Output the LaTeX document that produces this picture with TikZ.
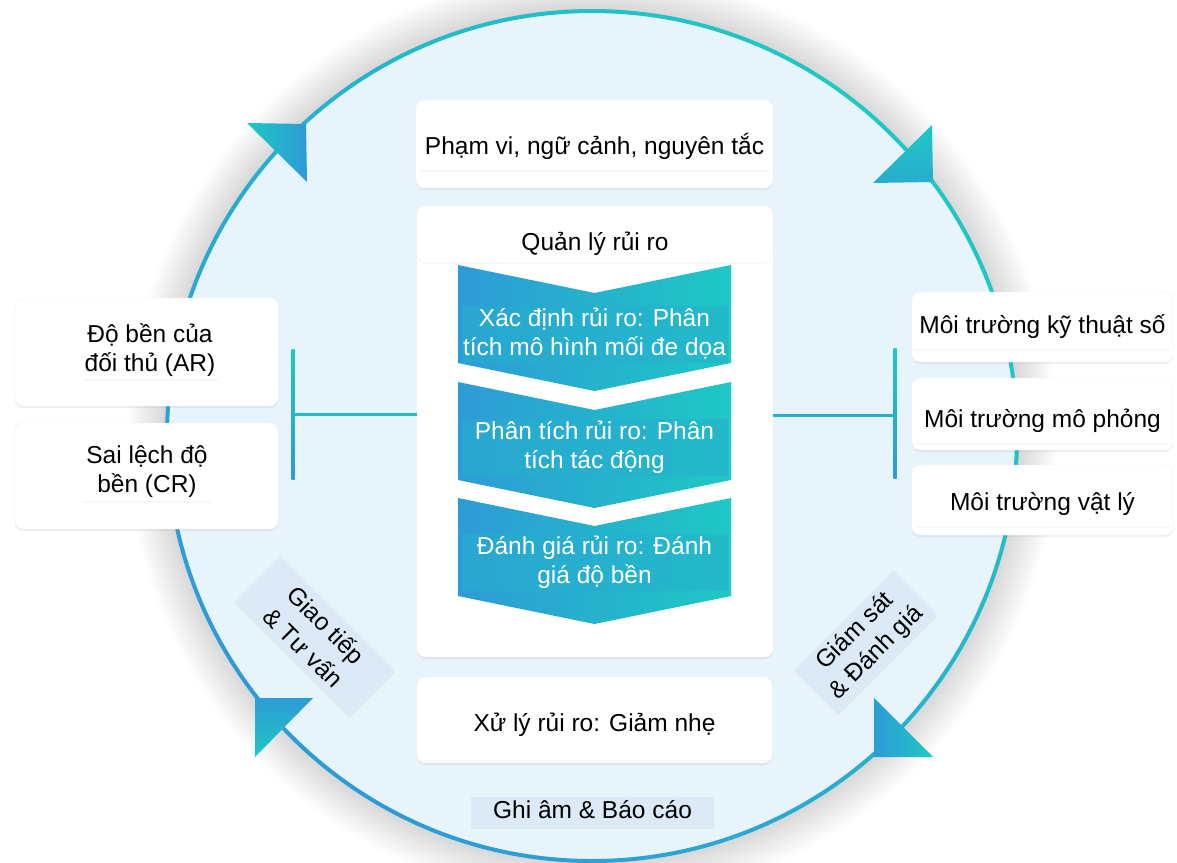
\documentclass[tikz,border=0pt]{standalone}
\usepackage{fontspec}
\setmainfont{Liberation Sans}
\usetikzlibrary{shadows,calc}
\definecolor{circfill}{HTML}{E8F4FC}
\definecolor{tealc}{HTML}{1EC8C4}
\definecolor{bluec}{HTML}{2D9BD6}
\definecolor{chevmid}{HTML}{27AFCE}
\definecolor{labelfill}{HTML}{DCEAF7}
\definecolor{lineteal}{HTML}{22BCC8}
\begin{document}
\begin{tikzpicture}[x=1pt,y=-1pt,
  every node/.style={font=\fontsize{24.5pt}{29pt}\selectfont, inner sep=0pt},
  card/.style={fill=white, draw=black!5, rounded corners=8pt,
    drop shadow={shadow xshift=0pt, shadow yshift=-2pt, opacity=0.12}},
  band/.style={fill=white, text height=17.5pt, text depth=5pt,
    drop shadow={shadow xshift=0pt, shadow yshift=-2pt, opacity=0.07}},
  tband/.style={fill=white, align=center, inner sep=3pt,
    drop shadow={shadow xshift=0pt, shadow yshift=-2pt, opacity=0.07}},
  chevtext/.style={text=white, fill=chevmid, fill opacity=0.55, text opacity=1,
    align=center, minimum width=266pt, minimum height=57pt},
  tag/.style={fill=labelfill,
    drop shadow={shadow xshift=0pt, shadow yshift=-2pt, opacity=0.10}},
]
\fill[white] (0,0) rectangle (1177,862);
\useasboundingbox (0,0) rectangle (1177,862);

% halo and circle
\foreach \k in {1,...,20} {\fill[black, opacity=0.009] (592,436) circle ({425+2*\k});}
\fill[circfill] (592,436) circle (425);
\shade[even odd rule, top color=tealc, bottom color=bluec, shading angle=-45]
  (592,436) circle (427) (592,436) circle (423);

% arrowheads on the ring
\shade[left color=tealc, right color=bluec] (247,123) -- (306,124) -- (307,182) -- cycle;
\shade[top color=tealc, bottom color=bluec!60!tealc] (932,125) -- (873,183) -- (933,182) -- cycle;
\shade[left color=bluec, right color=tealc] (874,698) -- (933,757) -- (874,757) -- cycle;
\shade[top color=bluec, bottom color=tealc] (313,698) -- (255,698) -- (255,757) -- cycle;

% top box
\node[card, minimum width=357pt, minimum height=88pt] (scopebox) at (594.5,144) {};
\node[band, minimum width=350pt, minimum height=44pt] (scopetxt) at (594.5,147.75) {Phạm vi, ngữ cảnh, nguyên tắc};

% risk management box
\node[card, minimum width=356pt, minimum height=451pt] (qbox) at (595,431.5) {};
\node[fill=white, rounded corners=8pt, minimum width=354pt, minimum height=55pt, anchor=north,
  drop shadow={shadow xshift=0pt, shadow yshift=-2pt, opacity=0.07}] (qhead) at ($(qbox.north)+(0,1)$) {};
\node[anchor=base] (qtitle) at (595,250) {Quản lý rủi ro};

% chevrons
\foreach \t in {265,382,498} {
  \shade[left color=bluec, right color=tealc]
    (458,\t) -- ({594.5},{\t+28}) -- (731,\t) -- ({731},{\t+98}) -- ({594.5},{\t+126}) -- ({458},{\t+98}) -- cycle;
}
\node[chevtext] (c1) at (594.5,334) {Xác định rủi ro: Phân\\tích mô hình mối đe dọa};
\node[chevtext] (c2) at (594.5,447) {Phân tích rủi ro: Phân\\tích tác động};
\node[chevtext] (c3) at (594.5,562) {Đánh giá rủi ro: Đánh\\giá độ bền};

% bottom box
\node[card, minimum width=355pt, minimum height=86pt] (treat) at (594.5,720) {};
\node[band, minimum width=348pt, minimum height=70pt] (treattxt) at (594.5,724.75) {Xử lý rủi ro: Giảm nhẹ};

% record label
\node[tag, minimum width=243pt, minimum height=30pt, text height=17.5pt, text depth=5pt] (record) at (592.5,812) {Ghi âm \& Báo cáo};

% left boxes
\node[card, minimum width=263pt, minimum height=108pt] (arbox) at (146.5,352) {};
\node[tband] (artxt) at (150,350) {Độ bền của\\đối thủ (AR)};
\node[card, minimum width=263pt, minimum height=106pt] (crbox) at (146.5,476) {};
\node[tband] (crtxt) at (147,472) {Sai lệch độ\\bền (CR)};

% right boxes
\node[card, minimum width=261pt, minimum height=70pt] (digbox) at (1042.5,327) {};
\node[band, minimum width=255pt, minimum height=44pt] (digtxt) at (1042.5,326.75) {Môi trường kỹ thuật số};
\node[card, minimum width=261pt, minimum height=72pt] (simbox) at (1042.5,414) {};
\node[band, minimum width=255pt, minimum height=44pt] (simtxt) at (1042.5,420.75) {Môi trường mô phỏng};
\node[card, minimum width=261pt, minimum height=70pt] (phybox) at (1042.5,500) {};
\node[band, minimum width=255pt, minimum height=44pt] (phytxt) at (1042.5,503.75) {Môi trường vật lý};

% connectors
\coordinate (lT) at (293,349); \coordinate (lB) at (293,479); \coordinate (lM) at (293,414);
\shade[top color=tealc, bottom color=bluec] ($(lT)+(-1.5,0)$) rectangle ($(lB)+(1.5,0)$);
\draw[lineteal, line width=3pt] (qbox.west |- lM) -- (lM);
\coordinate (rT) at (895,348); \coordinate (rB) at (895,478); \coordinate (rM) at (895,415);
\shade[top color=tealc, bottom color=bluec] ($(rT)+(-1.5,0)$) rectangle ($(rB)+(1.5,0)$);
\draw[bluec!60!tealc, line width=3pt] (qbox.east |- rM) -- (rM);

% rotated labels
\node[tag, align=center, rotate=-45, minimum width=162pt, minimum height=64pt,
  font=\fontsize{24.5pt}{32pt}\selectfont] (comm) at (315,636) {Giao tiếp\\\& Tư vấn};
\node[tag, align=center, rotate=45, minimum width=140pt, minimum height=62pt,
  font=\fontsize{24.5pt}{30pt}\selectfont] (monitor) at (866,642) {Giám sát\\\& Đánh giá};
\end{tikzpicture}
\end{document}
